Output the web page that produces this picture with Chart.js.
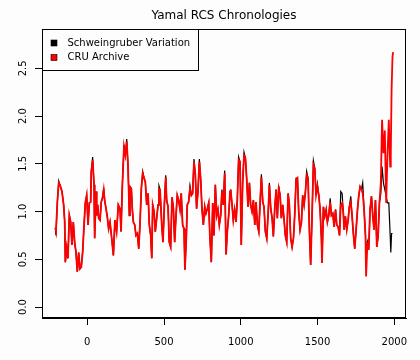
<!DOCTYPE html>
<html>
<head>
<meta charset="utf-8">
<script src="https://cdn.jsdelivr.net/npm/chart.js@4/dist/chart.umd.min.js"></script>
<style>
html,body{margin:0;padding:0;background:#fcfdfc;}
#wrap{width:420px;height:360px;}
</style>
</head>
<body>
<div id="wrap"><canvas id="c" width="420" height="360"></canvas></div>
<script>
const chartTitle = 'Yamal RCS Chronologies';
const seriesNames = ['Schweingruber Variation', 'CRU Archive'];
const xTicks = [0, 500, 1000, 1500, 2000];
const yTicks = [0.0, 0.5, 1.0, 1.5, 2.0, 2.5];

const years = [-208,-204,-195,-186,-178,-165,-154,-147,-143,-134,-126,-117,-108,-100,-91,-82,-74,-65,-56,-48,-39,-30,-21,-13,-4,5,13,22,26,35,44,48,57,61,68,74,83,91,100,107,113,122,130,139,148,159,170,180,191,202,213,220,228,239,248,257,265,274,278,287,293,300,309,317,326,335,343,352,361,370,378,387,396,404,413,420,426,435,443,452,461,467,474,485,493,502,511,517,526,534,543,552,561,569,578,586,595,604,612,621,630,636,645,651,660,669,678,686,695,704,712,721,730,739,747,756,765,773,782,791,799,808,817,825,834,843,851,860,869,877,886,895,904,912,921,930,934,943,951,960,969,977,986,995,1003,1012,1021,1030,1038,1047,1056,1064,1073,1082,1091,1099,1108,1117,1125,1134,1143,1151,1160,1169,1178,1186,1195,1204,1212,1221,1230,1238,1247,1256,1264,1273,1282,1290,1299,1308,1316,1325,1334,1343,1351,1360,1369,1377,1386,1395,1403,1412,1421,1429,1438,1447,1455,1464,1473,1482,1490,1499,1508,1516,1525,1529,1538,1547,1556,1564,1573,1582,1590,1599,1608,1617,1625,1634,1643,1651,1660,1668,1673,1681,1690,1699,1707,1716,1725,1733,1742,1751,1760,1768,1777,1786,1794,1803,1812,1816,1825,1833,1842,1851,1860,1868,1877,1886,1894,1903,1912,1920,1929,1938,1947,1955,1964,1973,1977,1982,1988,1992];

const cruArchive = [0.83,0.80,1.10,1.30,1.28,1.21,1.07,0.89,0.47,0.62,0.51,0.96,0.89,0.65,0.89,0.67,0.58,0.37,0.57,0.40,0.42,0.58,0.86,1.09,1.17,0.86,1.09,1.10,1.42,1.54,1.28,0.72,1.21,0.96,1.07,0.93,0.91,1.10,1.15,1.23,1.12,1.03,0.95,0.82,0.89,0.72,0.54,0.91,0.79,1.07,1.03,0.79,1.26,1.68,1.59,1.73,1.49,0.96,1.26,1.24,1.03,0.89,0.86,0.75,0.77,0.61,0.86,1.24,1.40,1.35,1.31,1.07,1.19,0.86,0.75,0.51,1.07,1.00,0.79,0.93,1.07,1.24,1.23,0.86,0.68,1.07,1.36,1.12,1.05,0.68,0.63,1.15,1.03,0.68,0.96,1.17,1.12,1.02,1.19,0.86,0.82,0.39,0.72,1.07,1.10,1.24,1.17,1.19,1.52,1.38,1.03,1.21,1.52,1.33,1.03,0.86,1.05,0.98,1.03,1.09,0.72,0.47,1.09,0.75,1.28,0.96,1.02,0.86,0.96,1.21,1.07,1.40,0.55,0.79,0.96,1.21,1.23,1.07,0.91,1.02,0.89,1.12,1.54,1.52,0.65,1.30,1.59,1.56,1.35,1.05,1.30,1.07,1.00,1.12,0.86,1.10,0.86,0.79,1.07,1.36,1.10,1.05,0.79,0.72,0.98,1.28,1.03,0.93,0.74,1.03,1.23,0.93,1.24,1.17,0.93,1.07,0.91,0.75,0.68,1.19,1.07,0.72,0.63,0.72,0.96,1.33,1.35,1.00,0.81,0.89,1.17,1.07,1.21,1.38,1.35,0.79,0.44,0.95,1.49,1.45,1.17,1.26,1.17,1.03,0.72,0.46,1.05,0.95,1.02,0.89,0.96,1.10,0.96,0.98,0.84,1.02,0.86,0.84,0.75,1.07,1.09,0.98,0.81,0.95,0.81,0.91,1.05,1.10,0.95,0.77,0.61,0.81,1.02,1.16,1.26,1.23,1.19,1.02,0.75,0.32,0.68,0.60,1.02,1.16,0.95,0.81,1.12,0.63,0.74,1.09,1.30,1.96,1.61,1.85,1.09,1.57,1.96,1.47,1.60,2.27,2.62,2.67];

const schweingruber = [0.83,0.75,1.10,1.32,1.28,1.21,1.07,0.89,0.47,0.62,0.51,0.96,0.89,0.65,0.89,0.67,0.58,0.37,0.57,0.40,0.42,0.58,0.86,1.09,1.17,0.86,1.09,1.10,1.42,1.57,1.28,0.72,1.21,0.96,1.07,0.93,0.91,1.10,1.15,1.25,1.12,1.03,0.95,0.82,0.89,0.72,0.54,0.91,0.79,1.07,1.03,0.79,1.26,1.70,1.59,1.76,1.49,0.96,1.26,1.24,1.03,0.89,0.86,0.75,0.77,0.61,0.86,1.24,1.42,1.35,1.31,1.07,1.19,0.86,0.75,0.51,1.07,1.00,0.79,0.93,1.07,1.27,1.23,0.86,0.68,1.07,1.38,1.12,1.05,0.68,0.63,1.15,1.03,0.68,0.96,1.17,1.12,1.02,1.19,0.86,0.82,0.39,0.72,1.07,1.10,1.27,1.17,1.19,1.55,1.38,1.03,1.21,1.55,1.33,1.03,0.86,1.05,0.98,1.03,1.09,0.72,0.47,1.09,0.75,1.28,0.96,1.02,0.86,0.96,1.23,1.07,1.43,0.55,0.79,0.96,1.21,1.23,1.07,0.91,1.02,0.89,1.12,1.57,1.52,0.65,1.30,1.62,1.56,1.35,1.05,1.30,1.07,1.00,1.12,0.86,1.10,0.86,0.79,1.07,1.39,1.10,1.05,0.79,0.72,0.98,1.30,1.03,0.93,0.74,1.03,1.23,0.93,1.27,1.17,0.93,1.07,0.91,0.75,0.68,1.19,1.07,0.72,0.63,0.72,0.96,1.35,1.35,1.00,0.81,0.89,1.17,1.07,1.21,1.42,1.35,0.79,0.44,0.95,1.53,1.45,1.17,1.29,1.17,1.03,0.72,0.46,1.05,0.95,1.02,0.89,0.96,1.14,0.96,0.98,0.84,1.02,0.86,0.84,0.75,1.21,1.19,0.98,0.81,0.95,0.81,0.91,1.05,1.16,0.95,0.77,0.61,0.81,1.02,1.16,1.26,1.23,1.30,1.02,0.75,0.55,0.68,0.60,1.02,1.16,0.95,0.81,1.12,0.63,0.74,1.09,1.19,1.47,1.30,1.23,1.16,1.09,1.09,0.75,0.57,0.77,0.77,null];

const FONT = 'DejaVu Sans';
const BG = '#fcfdfc';

function toPoints(vals){ return years.map((yr,i)=>({x:yr, y:vals[i]})); }

const bgPlugin = {
  id:'bg',
  beforeDraw(chart){
    const ctx = chart.ctx;
    ctx.save();
    ctx.fillStyle = BG;
    ctx.fillRect(0,0,chart.width,chart.height);
    ctx.restore();
  }
};

const framePlugin = {
  id:'frame',
  afterDraw(chart){
    const {ctx, chartArea:a} = chart;
    ctx.save();
    ctx.strokeStyle = '#000';
    ctx.lineWidth = 1;
    ctx.strokeRect(Math.round(a.left)+0.5, Math.round(a.top)+0.5, Math.round(a.right-a.left)-1, Math.round(a.bottom-a.top)-1);
    const bx = Math.round(a.left)+0.5, by = Math.round(a.top)+0.5;
    const ds = chart.data.datasets;
    ctx.font = '10px "' + FONT + '"';
    let w = 0;
    ds.forEach(d=>{ w = Math.max(w, ctx.measureText(d.label).width); });
    const boxW = Math.round(w + 33), boxH = 41;
    ctx.fillStyle = BG;
    ctx.fillRect(bx, by, boxW, boxH);
    ctx.strokeRect(bx, by, boxW, boxH);
    ds.forEach((d,i)=>{
      const cy = by + 13.5 + i*14.5;
      ctx.fillStyle = d.borderColor;
      ctx.fillRect(bx+8.5, cy-3, 6, 6);
      ctx.strokeStyle = '#000';
      ctx.lineWidth = 0.6;
      ctx.strokeRect(bx+8.5, cy-3, 6, 6);
      ctx.lineWidth = 1;
      ctx.fillStyle = '#000';
      ctx.textBaseline = 'middle';
      ctx.textAlign = 'left';
      ctx.fillText(d.label, bx+25, cy);
    });
    ctx.restore();
  }
};

new Chart(document.getElementById('c'), {
  type:'line',
  data:{
    datasets:[
      {label:seriesNames[0], data:toPoints(schweingruber), borderColor:'#000000', backgroundColor:'#000000', borderWidth:1.2, pointRadius:0, tension:0, order:2},
      {label:seriesNames[1], data:toPoints(cruArchive), borderColor:'#ff0000', backgroundColor:'#ff0000', borderWidth:1.8, pointRadius:0, tension:0, order:1}
    ]
  },
  options:{
    responsive:false,
    animation:false,
    devicePixelRatio:1,
    layout:{padding:{left:0, right:14, top:0, bottom:0}},
    plugins:{
      legend:{display:false},
      tooltip:{enabled:false},
      title:{display:true, text:chartTitle, fullSize:false, color:'#000',
        font:{family:FONT, size:12, weight:'normal', lineHeight:1.2},
        padding:{top:9, bottom:5.6}}
    },
    scales:{
      x:{type:'linear', min:-295, max:2076,
        afterBuildTicks(s){ s.ticks = xTicks.map(v=>({value:v})); },
        afterFit(s){ s.height = 42; },
        grid:{display:true, drawOnChartArea:false, drawTicks:true, tickLength:7, color:'#000', lineWidth:1},
        border:{display:true, color:'#000', width:1},
        ticks:{color:'#000', font:{family:FONT, size:10}, padding:11, maxRotation:0, autoSkip:false,
          callback:(v)=>String(v)}
      },
      y:{type:'linear', min:-0.115, max:2.912,
        afterBuildTicks(s){ s.ticks = yTicks.map(v=>({value:v})); },
        afterFit(s){ s.width = 42; },
        grid:{display:true, drawOnChartArea:false, drawTicks:true, tickLength:7, color:'#000', lineWidth:1},
        border:{display:true, color:'#000', width:1},
        ticks:{color:'#000', font:{family:FONT, size:10}, padding:4, minRotation:90, maxRotation:90, crossAlign:'center', autoSkip:false,
          callback:(v)=>Number(v).toFixed(1)}
      }
    }
  },
  plugins:[bgPlugin, framePlugin]
});
</script>
</body>
</html>
